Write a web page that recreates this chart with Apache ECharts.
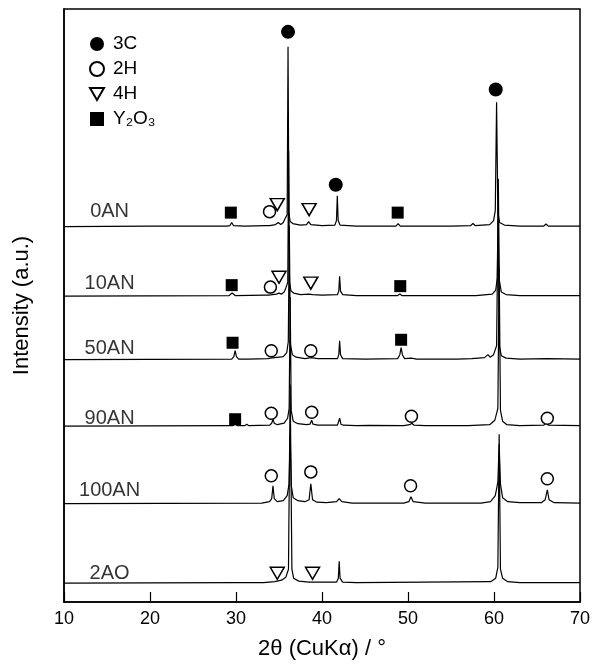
<!DOCTYPE html>
<html>
<head>
<meta charset="utf-8">
<script src="https://cdn.jsdelivr.net/npm/echarts@6/dist/echarts.min.js"></script>
<style>
  html, body { margin: 0; padding: 0; background: #fff; }
  #chart { width: 604px; height: 665px; }
</style>
</head>
<body>
<div id="chart"></div>
<script>
// sample names, top to bottom, and the vertical offset of each trace
const sampleNames = ['0AN', '10AN', '50AN', '90AN', '100AN', '2AO'];
const offsets = [378, 308, 244, 177, 99, 19];
const labelX = 15.3;
const labelY = [393, 321, 255, 185, 112, 29];

// traces: [2theta, intensity above own baseline]
const t0AN = [[10,0],[20,0.5],[28.9,0.5],[29.3,1],[29.5,4],[29.7,1],[31,0.5],[33.5,1],[33.7,2.5],[33.9,1],[34.6,2],[34.9,4],[35.2,2],[35.5,4],[35.65,7],[35.8,5],[35.95,12],[36.05,181],[36.15,14],[36.3,5],[36.6,3],[37.5,1.5],[38.2,2],[38.45,5],[38.7,2],[40,1],[41.5,1.5],[41.68,6],[41.78,31],[41.88,6],[42.1,1.5],[44,0.5],[48.6,0.5],[48.85,3],[49.1,0.5],[55,0.5],[57.3,1],[57.55,3],[57.8,1],[59.5,2],[59.95,6],[60.15,16],[60.3,125],[60.45,14],[60.65,4],[61.2,1.5],[63,0.5],[65.8,0.5],[66.05,2.5],[66.3,0.5],[70,0.5]];
const t10AN = [[10,0],[29.2,0.5],[29.55,3],[29.9,0.5],[33.4,1],[33.6,2],[33.8,1],[34.7,2],[35.0,3],[35.3,2],[35.6,4],[35.75,7],[35.9,6],[36.02,14],[36.12,146],[36.22,14],[36.4,5],[36.7,3],[37.5,1.5],[38.5,2],[38.7,3],[38.9,1.5],[40,1],[41.8,1.5],[41.95,5],[42.05,20],[42.15,5],[42.4,1.5],[44,0.5],[48.8,0.5],[49.05,2],[49.3,0.5],[57.5,0.5],[57.7,2],[57.9,0.5],[59.8,2],[60.2,6],[60.38,18],[60.5,118],[60.62,16],[60.85,4],[61.4,1.5],[63,0.5],[70,0.5]];
const t50AN = [[10,0],[29.5,0.5],[29.75,3],[29.9,9],[30.05,3],[30.3,0.5],[31.0,0.5],[31.2,2],[31.4,0.5],[33.7,1],[34.0,1.5],[35.5,3],[35.9,7],[36.08,18],[36.2,135],[36.32,16],[36.55,5],[37,2.5],[38,1],[38.75,2],[39.5,1],[41.8,1],[41.95,5],[42.05,19],[42.15,5],[42.4,1],[45,0.5],[48.8,1],[49.05,5],[49.2,12],[49.35,5],[49.6,1],[50.4,1.5],[51,0.5],[55.7,0.5],[57.4,1],[58.9,2],[59.3,5],[59.55,2.5],[59.95,5],[60.3,14],[60.48,150],[60.62,14],[60.85,4],[61.4,1.5],[63,0.5],[66.2,1],[70,0.5]];
const t90AN = [[10,0],[29.6,0.5],[29.9,2],[30.2,0.5],[31.0,0.5],[31.25,2],[31.5,0.5],[33.9,1],[34.15,3],[34.3,7],[34.45,3],[34.8,1.5],[35.6,3],[36.0,8],[36.18,18],[36.3,130],[36.42,16],[36.65,5],[37.2,2.5],[38.2,1.5],[38.6,2],[38.8,6],[38.95,2],[39.5,1],[41.8,1],[41.95,3],[42.05,8],[42.2,2],[42.5,1],[44,0.5],[45.5,0.8],[49.5,0.5],[50.2,1.5],[50.45,3],[50.7,1],[52,0.5],[57,0.5],[59.5,1.5],[60.1,6],[60.45,18],[60.6,160],[60.75,16],[61,5],[61.5,1.5],[63,0.5],[65.8,1],[66.1,4],[66.3,1],[70,0.5]];
const t100AN = [[10,0],[33,0.5],[33.9,2],[34.15,5],[34.3,18],[34.45,5],[34.8,2],[35.5,3],[35.95,8],[36.17,20],[36.3,70],[36.43,18],[36.65,6],[37.2,3],[38.0,2],[38.5,4],[38.7,20],[38.9,4],[39.4,1.5],[40.5,1],[41.7,2],[42.0,5],[42.3,2],[43.5,0.5],[49.5,0.5],[50.1,2],[50.35,7],[50.6,2],[52,0.5],[58.5,0.5],[59.6,2],[60.15,8],[60.45,22],[60.6,60],[60.75,20],[61.0,6],[61.6,2],[63,1],[65.5,1],[65.95,4],[66.2,14],[66.4,4],[67,1],[70,0.5]];
const t2AO = [[10,0],[30,0.5],[32.8,0.5],[33.0,2],[33.2,0.5],[34.5,1.5],[35.3,3],[35.8,6],[36.1,14],[36.3,200],[36.5,14],[36.7,5],[37.3,2],[38.5,1],[41.7,1],[41.9,5],[42.0,22],[42.1,5],[42.4,1],[44,0.5],[59.6,1.5],[60.2,5],[60.45,16],[60.6,150],[60.75,14],[61.0,5],[61.6,1.5],[63,0.5],[70,0.5]];
const traces = [t0AN, t10AN, t50AN, t90AN, t100AN, t2AO];

// phase markers [2theta, y]
const m3C = [[36.05,574],[41.6,420],[60.2,516]];
const m2H = [[33.9,393],[34.0,317],[34.1,253],[38.7,253],[34.1,190],[38.8,191],[50.4,187],[66.2,185],[34.1,127],[38.7,131],[50.3,117],[66.2,124]];
const m4H = [[34.8,400],[38.5,395],[35.0,327],[38.7,321],[34.8,29],[38.9,29]];
const mY2O3 = [[29.4,392],[48.8,392],[29.5,319],[49.1,318],[29.6,261],[49.2,264],[29.9,184]];

const font = 'Liberation Sans, Arial, sans-serif';
const chart = echarts.init(document.getElementById('chart'));

const lineSeries = traces.map((tr, i) => ({
    name: sampleNames[i],
    type: 'line',
    data: tr.map(p => [p[0], p[1] + offsets[i]]),
    showSymbol: false,
    symbol: 'none',
    lineStyle: { color: '#000', width: 1.2 },
    z: 2
}));

const option = {
    animation: false,
    backgroundColor: '#fff',
    grid: {
        left: 64, right: 24, top: 9, bottom: 59,
        show: true, borderColor: '#000', borderWidth: 1.5
    },
    legend: {
        data: ['3C', '2H', '4H', 'Y₂O₃'],
        orient: 'vertical',
        left: 84, top: 29,
        itemWidth: 14, itemHeight: 14, itemGap: 5,
        textStyle: { fontSize: 19, lineHeight: 20, color: '#000', fontFamily: font, padding: [0, 0, 0, 4] }
    },
    xAxis: {
        type: 'value',
        min: 10, max: 70, interval: 10,
        axisLine: { lineStyle: { color: '#000', width: 1.5 } },
        axisTick: { inside: true, length: 10, lineStyle: { color: '#000', width: 1.2 } },
        splitLine: { show: false },
        axisLabel: { fontSize: 18, color: '#000', margin: 8, fontFamily: font },
        name: '2θ (CuKα) / °',
        nameLocation: 'middle',
        nameGap: 36,
        nameTextStyle: { fontSize: 22, color: '#000', fontFamily: font }
    },
    yAxis: {
        type: 'value',
        min: 0, max: 597,
        axisLine: { show: true, lineStyle: { color: '#000', width: 1.5 } },
        axisTick: { show: false },
        axisLabel: { show: false },
        splitLine: { show: false },
        name: 'Intensity (a.u.)',
        nameLocation: 'middle',
        nameGap: 31,
        nameTextStyle: { fontSize: 22, color: '#000', fontFamily: font }
    },
    series: lineSeries.concat([
        {
            name: '3C', type: 'scatter', data: m3C,
            symbol: 'circle', symbolSize: 14,
            itemStyle: { color: '#000', opacity: 1 }, z: 5
        },
        {
            name: '2H', type: 'scatter', data: m2H,
            symbol: 'circle', symbolSize: 12,
            itemStyle: { color: '#fff', borderColor: '#000', borderWidth: 1.5, opacity: 1 }, z: 5
        },
        {
            name: '4H', type: 'scatter', data: m4H,
            symbol: 'path://M0,0L10,0L5,8.66Z', symbolSize: [14, 12],
            itemStyle: { color: '#fff', borderColor: '#000', borderWidth: 1.5, opacity: 1 }, z: 5
        },
        {
            name: 'Y₂O₃', type: 'scatter', data: mY2O3,
            symbol: 'rect', symbolSize: 12,
            itemStyle: { color: '#000', opacity: 1 }, z: 5
        },
        {
            name: 'labels', type: 'scatter',
            data: sampleNames.map((n, i) => ({ name: n, value: [labelX, labelY[i]] })),
            symbolSize: 0,
            silent: true,
            label: {
                show: true, position: 'inside', formatter: '{b}',
                fontSize: 20, color: '#000', fontFamily: font
            },
            z: 6
        }
    ])
};
chart.setOption(option);
</script>
</body>
</html>
